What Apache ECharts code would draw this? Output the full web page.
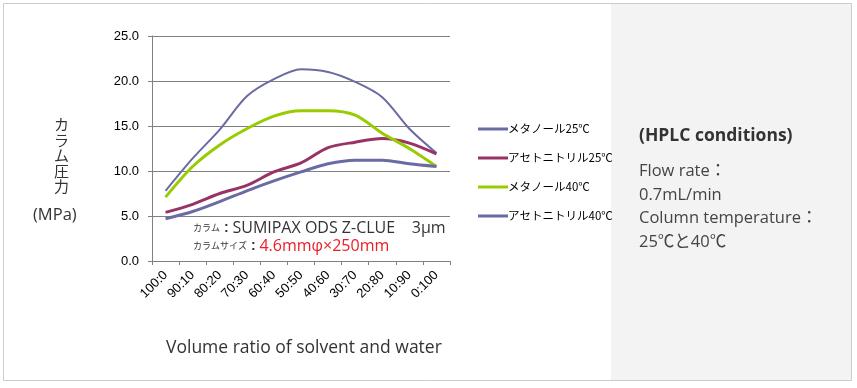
<!DOCTYPE html>
<html><head><meta charset="utf-8">
<script src="https://cdn.jsdelivr.net/npm/echarts@6/dist/echarts.min.js"></script>
<style>html,body{margin:0;padding:0;background:#fff}#c{width:857px;height:388px}</style>
</head><body><div id="c"></div>
<script>
const categories = ['100:0','90:10','80:20','70:30','60:40','50:50','40:60','30:70','20:80','10:90','0:100'];
const seriesNames = ['メタノール25℃','アセトニトリル25℃','メタノール40℃','アセトニトリル40℃'];
const methanol25 = [7.8, 11.4, 14.6, 18.3, 20.2, 21.3, 21.0, 19.9, 18.2, 14.7, 12.0];
const acetonitrile25 = [5.4, 6.3, 7.5, 8.4, 9.9, 10.9, 12.6, 13.2, 13.6, 13.1, 11.9];
const methanol40 = [7.1, 10.5, 12.9, 14.7, 16.1, 16.7, 16.7, 16.2, 14.2, 12.5, 10.5];
const acetonitrile40 = [4.7, 5.5, 6.6, 7.8, 8.9, 9.9, 10.8, 11.2, 11.2, 10.8, 10.5];
const yTicks = [0, 5, 10, 15, 20, 25];

const chart = echarts.init(document.getElementById('c'));
const colors = ['#6a6aa4', '#993366', '#99cc00', '#6a6aa4'];
const widths = [2, 3, 3, 3];
const datas = [methanol25, acetonitrile25, methanol40, acetonitrile40];
const jp = '"Noto Sans CJK JP", sans-serif';
const os = '"Open Sans", "Noto Sans CJK JP", sans-serif';

chart.setOption({
  animation: false,
  graphic: [
    {type:'rect', shape:{x:3.5,y:3.5,width:848,height:377}, style:{fill:'#fff',stroke:'#cccccc',lineWidth:1}, z:-10},
    {type:'rect', shape:{x:611,y:4,width:240,height:376}, style:{fill:'#f3f3f3'}, z:-9},
    {type:'text', left:639, top:127, style:{text:'(HPLC conditions)', font:'bold 17.5px '+os, fill:'#333'}},
    {type:'text', left:639, top:160, style:{text:'Flow rate：\n0.7mL/min\nColumn temperature：\n25℃と40℃', font:'16.5px '+os, fill:'#444', lineHeight:23.5}},
    {type:'text', left:54, top:117, style:{text:'カ\nラ\nム\n圧\n力', font:'15px '+jp, fill:'#333', lineHeight:15.5}},
    {type:'text', left:33, top:207, style:{text:'(MPa)', font:'16.5px '+os, fill:'#333'}},
    {type:'text', left:193, top:220, style:{
      text:'{s|カラム}{c| : }{n|SUMIPAX ODS Z-CLUE    3μm}\n{s|カラムサイズ}{c| : }{r|4.6mmφ×250mm}',
      rich:{
        s:{font:'9px '+jp, fill:'#333', lineHeight:18},
        c:{font:'bold 14px "Liberation Sans"', fill:'#333', lineHeight:18},
        n:{font:'16px '+os, fill:'#333', lineHeight:18},
        r:{font:'16px '+os, fill:'#ee1c25', lineHeight:18}
      }}},
    {type:'text', left:166, top:339, style:{text:'Volume ratio of solvent and water', font:'17.5px '+os, fill:'#333'}}
  ],
  legend: {
    orient:'vertical', left:473, top:117, itemGap:15, itemWidth:30, itemHeight:3,
    icon:'rect',
    data: seriesNames,
    textStyle:{fontFamily:'"Noto Sans CJK JP"', fontSize:11.5, color:'#000', lineHeight:14, padding:[0,0,0,-5]}
  },
  grid: {left:152, top:36, right:407, bottom:127, containLabel:false},
  xAxis: {
    type:'category', data:categories, boundaryGap:true,
    axisLine:{lineStyle:{color:'#808080'}},
    axisTick:{show:true, length:4, lineStyle:{color:'#808080'}},
    axisLabel:{rotate:45, fontSize:13, color:'#000', fontFamily:'"Liberation Sans"', margin:12, interval:0}
  },
  yAxis: {
    type:'value', min:yTicks[0], max:yTicks[yTicks.length-1], interval:5,
    axisLine:{show:true, lineStyle:{color:'#808080'}},
    axisTick:{show:true, length:4, lineStyle:{color:'#808080'}},
    splitLine:{lineStyle:{color:'#808080'}},
    axisLabel:{formatter: v => v.toFixed(1), fontSize:13, color:'#000', fontFamily:'"Liberation Sans"', margin:13}
  },
  series: seriesNames.map((n,i)=>({
    name:n, type:'line', data:datas[i], smooth:0.3, symbol:'none',
    lineStyle:{color:colors[i], width:widths[i]}, itemStyle:{color:colors[i]}
  }))
});
</script></body></html>
